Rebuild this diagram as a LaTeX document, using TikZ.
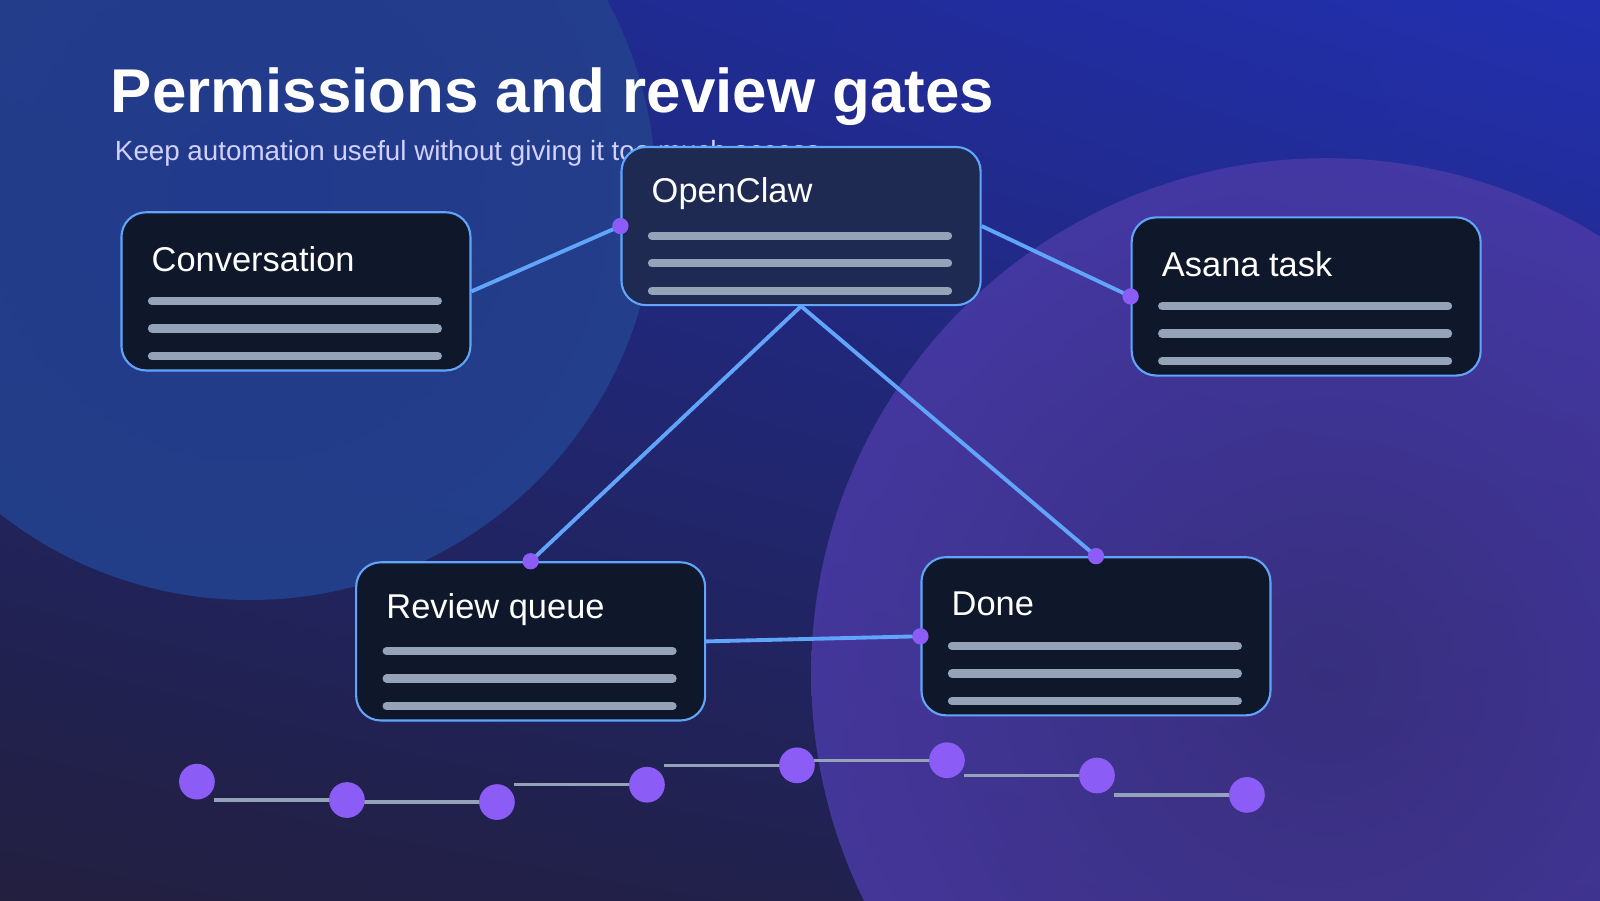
\documentclass[tikz,border=0pt]{standalone}
\usepackage{fontspec}
\setmainfont{Liberation Sans}
\usetikzlibrary{shadings,calc}
\begin{document}
\begin{tikzpicture}[x=0.0102041cm,y=-0.0102041cm,
  box/.style={draw=boxedge,line width=0.6pt,rounded corners=7pt,fill=boxfill},
  lbl/.style={anchor=west,text=white,font=\fontsize{9.8pt}{11pt}\selectfont,inner sep=0},
  bar/.style={draw=barc,line width=2.4pt,line cap=round},
  conn/.style={draw=connc,line width=1.1pt},
  dot/.style={fill=dotc,draw=none},
  tl/.style={draw=barc,line width=0.9pt}]
\definecolor{boxedge}{HTML}{60A5FA}
\definecolor{boxfill}{HTML}{0F172A}
\definecolor{boxfill2}{HTML}{1E2A52}
\definecolor{barc}{HTML}{94A3B8}
\definecolor{connc}{HTML}{60A5FA}
\definecolor{dotc}{HTML}{8B5CF6}
\definecolor{bgA}{HTML}{221F3F}
\definecolor{bgB}{HTML}{1E2A8F}
\definecolor{bgC}{HTML}{2230B0}
\definecolor{circL}{HTML}{24408C}
\definecolor{circR}{HTML}{4A3AA6}
\useasboundingbox (0,0) rectangle (1568,882);
\shade[lower left=bgA,lower right=bgA!70!bgB,upper left=bgB!80!bgA,upper right=bgC] (0,0) rectangle (1568,882);
\begin{scope}
\clip (0,0) rectangle (1568,882);
\shade[inner color=circL!80!bgB,outer color=circL,opacity=0.95] (245,190) circle (398);
\shade[inner color=circR!65!bgA,outer color=circR,opacity=0.85] (1300,660) circle (505);
\end{scope}
\node[anchor=west,text=white,font=\fontsize{17.6pt}{20pt}\selectfont\bfseries,inner sep=0] (title) at (108,95) {Permissions and review gates};
\node[anchor=west,text=white!82!blue,font=\fontsize{7.9pt}{9pt}\selectfont,inner sep=0] (sub) at (112,150) {Keep automation useful without giving it too much access};
\newcommand{\cbox}[6]{%
 \node[box,fill=#5,minimum width=#6*0.0102041cm,minimum height=155*0.0102041cm,anchor=north west,inner sep=0] (#1) at (#2,#3) {};
 \node[lbl] (#1-t) at (#2+30,#3+47) {#4};
 \draw[bar] (#2+31,#3+88) -- (#2+#6-31,#3+88);
 \draw[bar] (#2+31,#3+115) -- (#2+#6-31,#3+115);
 \draw[bar] (#2+31,#3+142) -- (#2+#6-31,#3+142);}
\cbox{conv}{118}{207}{Conversation}{boxfill}{342}
\cbox{oc}{608}{143}{OpenClaw}{boxfill2}{352}
\cbox{asana}{1108}{212}{Asana task}{boxfill}{342}
\cbox{rev}{348}{550}{Review queue}{boxfill}{342}
\cbox{done}{902}{545}{Done}{boxfill}{342}
\draw[conn] (conv.east) -- (oc.west);
\draw[conn] (oc.east) -- (asana.west);
\draw[conn] (oc.south) -- (rev.north);
\draw[conn] (oc.south) -- (done.north);
\draw[conn] (rev.east) -- (done.west);
\foreach \n in {oc.west,asana.west,rev.north,done.north,done.west}
  \fill[dot] (\n) circle (8);
\foreach \i/\x/\y in {1/193/766,2/340/784,3/487/786,4/634/769,5/781/750,6/928/745,7/1075/760,8/1222/779}
  \coordinate (t\i) at (\x,\y);
\foreach \a/\b/\xa/\xb/\y in {1/2/193/340/784,2/3/340/487/786,3/4/487/634/769,4/5/634/781/750,5/6/781/928/745,6/7/928/1075/760,7/8/1075/1222/779}
  \draw[tl] (\xa+17,\y) coordinate (s\a) -- (\xb-17,\y) coordinate (e\a);
\foreach \i in {1,...,8} \fill[dot] (t\i) circle (17.5);
\end{tikzpicture}
\end{document}
